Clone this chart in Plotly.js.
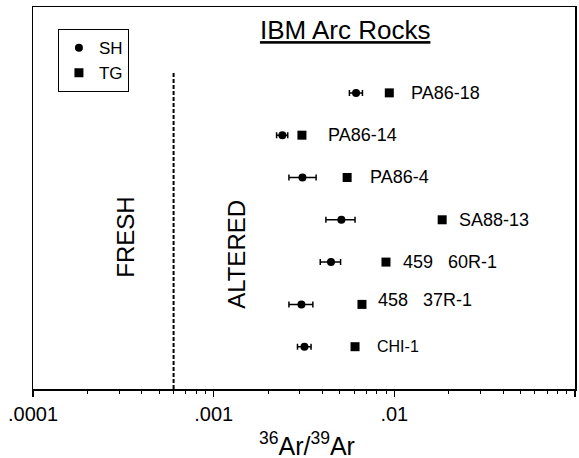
<!DOCTYPE html>
<html>
<head>
<meta charset="utf-8">
<script src="https://cdn.plot.ly/plotly-3.0.1.min.js"></script>
<style>
html,body{margin:0;padding:0;background:#fff;}
#chart{width:579px;height:458px;}
</style>
</head>
<body>
<div id="chart"></div>
<script>
// ---- data ----
const samples = ['PA86-18', 'PA86-14', 'PA86-4', 'SA88-13', '459\u00a0\u00a0\u00a060R-1', '458\u00a0\u00a0\u00a037R-1', 'CHI-1'];
const shValues = [0.00614, 0.00240, 0.00310, 0.00509, 0.00446, 0.00306, 0.00318];
const shLow    = [0.00564, 0.00223, 0.00261, 0.00418, 0.00389, 0.00261, 0.00291];
const shHigh   = [0.00666, 0.00257, 0.00369, 0.00606, 0.00504, 0.00354, 0.00346];
const tgValues = [0.00938, 0.00308, 0.00548, 0.0184, 0.00899, 0.00662, 0.00606];
const freshAlteredLimit = 0.0006;
const xTickValues = [0.0001, 0.001, 0.01, 0.1];
const xTickLabels = ['.0001', '.001', '.01', '.1'];
const xAxisTitle = '<sup>36</sup>Ar/<sup>39</sup>Ar';

// ---- build ----
const FONT = 'Liberation Sans, Arial, Helvetica, sans-serif';
const n = samples.length;
const rows = samples.map((_, i) => n - i);

const minorVals = [];
for (let e = -4; e < -1; e++) for (let m = 2; m <= 9; m++) minorVals.push(m * Math.pow(10, e));

const shTrace = {
  type: 'scatter', mode: 'markers', name: 'SH',
  x: shValues, y: rows,
  marker: {symbol: 'circle', size: 8, color: '#000'},
  error_x: {
    type: 'data', symmetric: false,
    array: shHigh.map((h, i) => h - shValues[i]),
    arrayminus: shValues.map((v, i) => v - shLow[i]),
    color: '#000', thickness: 1.5, width: 3
  }
};
const tgTrace = {
  type: 'scatter', mode: 'markers', name: 'TG',
  x: tgValues, y: rows,
  marker: {symbol: 'square', size: 9, color: '#000'}
};

// label style tweaks (gap from square in px, font size, vertical nudge)
const labelGap = [20, 24, 21, 15, 15, 14, 20];
const labelSize = [18, 18, 18, 18, 18, 18, 16];
const labelNudge = [0, 0, 0, 0, 0, 4, 0];

const annotations = samples.map((s, i) => ({
  x: Math.log10(tgValues[i]), y: rows[i], xref: 'x', yref: 'y',
  text: s, showarrow: false, xanchor: 'left', yanchor: 'middle',
  xshift: labelGap[i], yshift: labelNudge[i],
  font: {family: FONT, size: labelSize[i], color: '#000'}
}));
annotations.push(
  {xref: 'paper', yref: 'paper', x: 0.171, y: 0.398, text: 'FRESH', textangle: -90,
   showarrow: false, xanchor: 'center', yanchor: 'middle', font: {family: FONT, size: 24, color: '#000'}},
  {xref: 'paper', yref: 'paper', x: 0.374, y: 0.353, text: 'ALTERED', textangle: -90,
   showarrow: false, xanchor: 'center', yanchor: 'middle', font: {family: FONT, size: 24, color: '#000'}},
  {xref: 'paper', yref: 'paper', x: 0.505, y: -0.145, text: xAxisTitle,
   showarrow: false, xanchor: 'center', yanchor: 'middle', font: {family: FONT, size: 25, color: '#000'}}
);

const layout = {
  width: 579, height: 458,
  margin: {l: 33, r: 4, t: 7, b: 69},
  paper_bgcolor: '#fff', plot_bgcolor: '#fff',
  font: {family: FONT, color: '#000'},
  title: {
    text: '<u>IBM Arc Rocks</u>',
    font: {family: FONT, size: 26, color: '#000'},
    xref: 'paper', x: 0.576, xanchor: 'center',
    yref: 'container', y: 1 - 30 / 458, yanchor: 'middle'
  },
  showlegend: true,
  legend: {
    x: 0.046, y: 0.942, xanchor: 'left', yanchor: 'top',
    bordercolor: '#000', borderwidth: 1, bgcolor: '#fff',
    font: {family: FONT, size: 17, color: '#000'},
    tracegroupgap: 0, itemwidth: 30
  },
  xaxis: {
    type: 'log', range: [-4, -1],
    tickmode: 'array', tickvals: xTickValues, ticktext: xTickLabels,
    ticks: 'outside', ticklen: 6, tickwidth: 1.2, tickcolor: '#000',
    minor: {tickmode: 'array', tickvals: minorVals, ticks: 'outside', ticklen: 3, tickwidth: 1, tickcolor: '#000'},
    showline: true, mirror: true, linecolor: '#000', linewidth: 1.5,
    showgrid: false, zeroline: false,
    tickfont: {family: FONT, size: 20, color: '#000'},
    automargin: false
  },
  yaxis: {
    range: [0, 9.03], showticklabels: false, ticks: '',
    showline: true, mirror: true, linecolor: '#000', linewidth: 1.5,
    showgrid: false, zeroline: false, fixedrange: true
  },
  shapes: [{
    type: 'line', xref: 'x', yref: 'paper',
    x0: freshAlteredLimit, x1: freshAlteredLimit, y0: 0, y1: 0.832,
    line: {color: '#000', width: 2, dash: '4px,2px'}
  }],
  annotations: annotations
};

Plotly.newPlot('chart', [shTrace, tgTrace], layout, {displayModeBar: false, staticPlot: true});
</script>
</body>
</html>
